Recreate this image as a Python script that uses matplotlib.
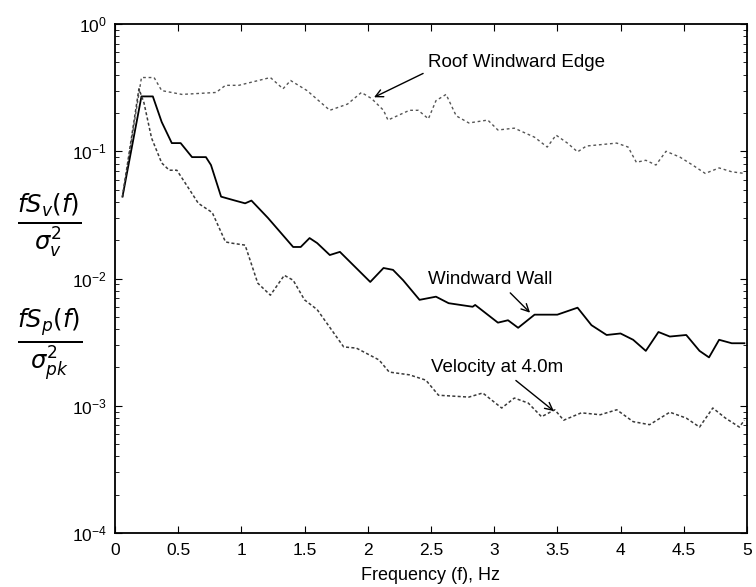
import matplotlib
matplotlib.use("Agg")
import matplotlib.pyplot as plt
from matplotlib.ticker import LogLocator, NullFormatter

# Roof Windward Edge (dotted, top)
roof_f = [0.06, 0.21, 0.31, 0.37, 0.53, 0.80, 0.875, 0.98, 1.23, 1.33, 1.39, 1.52,
          1.70, 1.84, 1.95, 2.03, 2.125, 2.16, 2.33, 2.40, 2.48, 2.54, 2.62, 2.70,
          2.80, 2.95, 3.03, 3.16, 3.32, 3.42, 3.49, 3.58, 3.66, 3.73, 3.97, 4.06,
          4.125, 4.20, 4.28, 4.36, 4.47, 4.57, 4.67, 4.78, 4.88, 4.98]
roof_s = [0.044, 0.38, 0.38, 0.30, 0.28, 0.29, 0.33, 0.33, 0.38, 0.31, 0.36, 0.30,
          0.21, 0.235, 0.29, 0.26, 0.21, 0.176, 0.21, 0.21, 0.18, 0.25, 0.28, 0.19,
          0.167, 0.176, 0.147, 0.152, 0.129, 0.108, 0.134, 0.116, 0.099, 0.11, 0.116, 0.108,
          0.082, 0.085, 0.078, 0.100, 0.090, 0.078, 0.067, 0.074, 0.069, 0.067]

# Windward Wall (solid, middle)
wall_f = [0.06, 0.21, 0.30, 0.37, 0.45, 0.52, 0.61, 0.72, 0.76, 0.84, 0.95, 1.03,
          1.08, 1.21, 1.41, 1.47, 1.54, 1.60, 1.70, 1.78, 2.02, 2.125, 2.20, 2.28,
          2.41, 2.54, 2.64, 2.83, 2.85, 3.03, 3.11, 3.19, 3.32, 3.50, 3.66, 3.77,
          3.89, 4.00, 4.10, 4.20, 4.30, 4.39, 4.52, 4.625, 4.70, 4.78, 4.88, 4.98]
wall_s = [0.044, 0.27, 0.27, 0.17, 0.116, 0.116, 0.090, 0.090, 0.078, 0.044, 0.041, 0.039,
          0.041, 0.030, 0.0177, 0.0177, 0.0208, 0.019, 0.0153, 0.0162, 0.0094, 0.0121, 0.0117, 0.0097,
          0.0068, 0.0072, 0.0064, 0.0060, 0.0062, 0.0045, 0.0047, 0.0041, 0.0052, 0.0052, 0.0059, 0.0043,
          0.0036, 0.0037, 0.0033, 0.0027, 0.0038, 0.0035, 0.0036, 0.0027, 0.0024, 0.0033, 0.0031, 0.0031]

# Velocity at 4.0m (dotted, bottom)
vel_f = [0.06, 0.19, 0.23, 0.29, 0.37, 0.43, 0.49, 0.59, 0.66, 0.77, 0.875, 0.92,
         1.03, 1.13, 1.23, 1.34, 1.41, 1.50, 1.60, 1.81, 1.91, 2.09, 2.17, 2.33,
         2.46, 2.56, 2.80, 2.91, 3.06, 3.16, 3.27, 3.375, 3.48, 3.55, 3.69, 3.84,
         3.97, 4.10, 4.23, 4.39, 4.52, 4.625, 4.73, 4.83, 4.94, 4.98]
vel_s = [0.044, 0.31, 0.24, 0.127, 0.081, 0.071, 0.071, 0.050, 0.039, 0.033, 0.0194, 0.019,
         0.0183, 0.0092, 0.0074, 0.0106, 0.0097, 0.0068, 0.0057, 0.0029, 0.00284, 0.00229, 0.00184, 0.00175,
         0.00159, 0.00121, 0.00117, 0.00126, 0.00096, 0.00115, 0.00105, 0.00082, 0.00093, 0.00077, 0.00088, 0.00085,
         0.00093, 0.00075, 0.00071, 0.00089, 0.0008, 0.00068, 0.00096, 0.0008, 0.00068, 0.00077]

xticks = [0, 0.5, 1, 1.5, 2, 2.5, 3, 3.5, 4, 4.5, 5]
xtick_labels = ["0", "0.5", "1", "1.5", "2", "2.5", "3", "3.5", "4", "4.5", "5"]

plt.rcParams["font.family"] = ["Liberation Sans", "DejaVu Sans"]

fig = plt.figure(figsize=(7.56, 5.87), dpi=100)
ax = fig.add_axes([0.152, 0.092, 0.836, 0.867])

ax.plot(roof_f, roof_s, color="#555555", lw=1.0, linestyle=(0, (2, 2)))
ax.plot(wall_f, wall_s, color="black", lw=1.3)
ax.plot(vel_f, vel_s, color="#3a3a3a", lw=1.1, linestyle=(0, (2, 1.5)))

ax.set_yscale("log")
ax.set_ylim(1e-4, 1e0)
ax.set_xlim(0, 5)
ax.set_xticks(xticks)
ax.set_xticklabels(xtick_labels)
ax.yaxis.set_major_locator(LogLocator(base=10, numticks=10))
ax.yaxis.set_minor_locator(LogLocator(base=10, subs=range(2, 10), numticks=10))
ax.yaxis.set_minor_formatter(NullFormatter())
ax.tick_params(which="both", direction="in", top=True, right=True, labelsize=12.5)
ax.tick_params(axis="x", pad=7)
ax.tick_params(axis="y", pad=6)
ax.tick_params(which="major", length=5)
ax.tick_params(which="minor", length=3)
for sp in ax.spines.values():
    sp.set_linewidth(1.3)

ax.set_xlabel("Frequency (f), Hz", fontsize=13, labelpad=7)

arrow = dict(arrowstyle="->", color="black", lw=1.0)
ax.annotate("Roof Windward Edge", xy=(2.03, 0.26), xytext=(2.48, 0.50),
            fontsize=13.5, va="center", ha="left",
            arrowprops=dict(arrow, relpos=(0.0, 0.0)))
ax.annotate("Windward Wall", xy=(3.30, 0.0052), xytext=(2.48, 0.0098),
            fontsize=13.5, va="center", ha="left",
            arrowprops=dict(arrow, relpos=(0.62, 0.0)))
ax.annotate("Velocity at 4.0m", xy=(3.49, 0.00088), xytext=(2.5, 0.0020),
            fontsize=13.5, va="center", ha="left",
            arrowprops=dict(arrow, relpos=(0.6, 0.0)))

fig.text(0.065, 0.617, r"$\frac{fS_v(f)}{\sigma_v^2}$", fontsize=25, ha="center", va="center")
fig.text(0.065, 0.414, r"$\frac{fS_p(f)}{\sigma_{pk}^2}$", fontsize=25, ha="center", va="center")

fig.savefig("out.png", dpi=100)
